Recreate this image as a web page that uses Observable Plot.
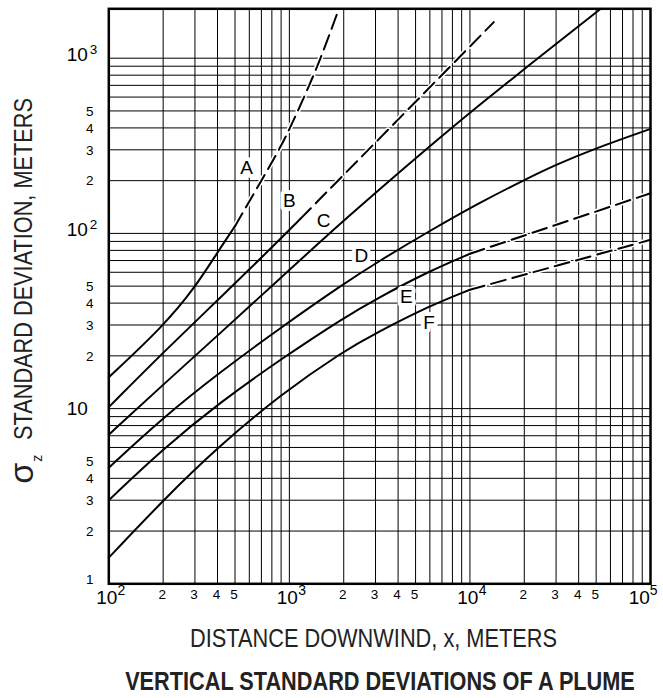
<!DOCTYPE html>
<html><head><meta charset="utf-8">
<script src="https://cdn.jsdelivr.net/npm/d3@7"></script>
<script src="https://cdn.jsdelivr.net/npm/@observablehq/plot@0.6"></script>
<style>
body{margin:0;background:#fff;}
#chart svg{display:block;}
</style></head><body><div id="chart"></div>
<script>
// ---- grid / tick data ----
const xGrid = [100,200,300,400,500,600,700,800,900,1000,2000,3000,4000,5000,6000,7000,8000,9000,10000,20000,30000,40000,50000,60000,70000,80000,90000,100000];
const yGrid = [1,2,3,4,5,6,7,8,9,10,20,30,40,50,60,70,80,90,100,200,300,400,500,600,700,800,900,1000];
const xMinorTicks = [200,300,400,500,2000,3000,4000,5000,20000,30000,40000,50000];
const xMinorLabels = ["2","3","4","5","2","3","4","5","2","3","4","5"];
const xDecadeTicks = [100,1000,10000];
const xDecadeExp = ["2","3","4"];
const xLastTick = [100000];
const xLastExp = ["5"];
const yMinorTicks = [2,3,4,5,20,30,40,50,200,300,400,500];
const yMinorLabels = ["2","3","4","5","2","3","4","5","2","3","4","5"];
const yOneTick = [1];
const yTenTick = [10];
const yDecadeTicks = [100,1000];
const yDecadeExp = ["2","3"];

// ---- curve data (distance x [m], sigma_z [m]) ----
const A_solid  = [[100,15.1],[200,29.5],[300,49],[400,78],[500,110]];
const A_dashed = [[500,110],[700,200],[900,315],[1000,392],[1280,683],[1550,1107],[1880,1914]];
const B_solid  = [[100,10.2],[200,20.9],[400,41.5],[800,83],[1150,121]];
const B_dashed = [[1150,121],[4580,514],[13560,1606]];
const C_solid  = [[100,7.1],[200,13.7],[415,27],[900,56],[2000,119],[6000,316],[11450,549],[25000,1040],[53000,1914]];
const D_solid  = [[100,4.6],[200,8.9],[415,16.2],[900,29.1],[2000,51.6],[3062,68.5],[6040,104],[11450,150.7],[20000,202],[30000,247],[50000,307],[100000,395]];
const E_solid  = [[100,3.0],[200,5.9],[415,10.9],[900,19.2],[2000,33.0],[3000,42.1],[6040,61.4],[10000,76.5]];
const E_dashed = [[10000,76.5],[100000,169.5]];
const F_solid  = [[100,1.41],[200,3.0],[400,6.0],[900,12.1],[2000,21.3],[3000,26.9],[6040,38.8],[10000,47.7]];
const F_dashed = [[10000,47.7],[100000,91.9]];

const curveLabels = ["A","B","C","D","E","F"];
const labelX = [579,1001,1550,2507,4450,5943];
const labelY = [236,152.5,117.2,74.8,43.2,30.8];

// ---- build tables ----
const toRows = (cls, pts) => pts.map(([x, y]) => ({cls, x, y}));
const solidRows = [
  ...toRows("A", A_solid), ...toRows("B", B_solid), ...toRows("C", C_solid),
  ...toRows("D", D_solid), ...toRows("E", E_solid), ...toRows("F", F_solid)
];
const dashedRows = [
  ...toRows("A", A_dashed), ...toRows("B", B_dashed),
  ...toRows("E", E_dashed), ...toRows("F", F_dashed)
];
const labelRows = curveLabels.map((t, i) => ({t, x: labelX[i], y: labelY[i]}));
const xMinorRows = xMinorTicks.map((v, i) => ({v, t: xMinorLabels[i]}));
const xDecRows = xDecadeTicks.map((v, i) => ({v, e: xDecadeExp[i]}));
const xLastRows = xLastTick.map((v, i) => ({v, e: xLastExp[i]}));
const yMinorRows = yMinorTicks.map((v, i) => ({v, t: yMinorLabels[i]}));
const yDecRows = yDecadeTicks.map((v, i) => ({v, e: yDecadeExp[i]}));

const FONT = '"Liberation Sans", Arial, Helvetica, sans-serif';
const DASH = "15,7";

const plot = Plot.plot({
  width: 663, height: 698,
  marginLeft: 108.3, marginRight: 13, marginTop: 8.3, marginBottom: 698 - 583.3,
  x: {type: "log", domain: [100, 100000], axis: null},
  y: {type: "log", domain: [1, 1914], axis: null},
  style: {fontFamily: FONT, background: "white", color: "black"},
  marks: [
    Plot.ruleX(xGrid, {stroke: "black", strokeWidth: 1}),
    Plot.ruleY(yGrid, {stroke: "black", strokeWidth: 1}),
    Plot.line(dashedRows, {x: "x", y: "y", z: "cls", stroke: "white", strokeWidth: 5, strokeDasharray: DASH, curve: "basis"}),
    Plot.line(solidRows, {x: "x", y: "y", z: "cls", stroke: "black", strokeWidth: 2, curve: "basis"}),
    Plot.line(dashedRows, {x: "x", y: "y", z: "cls", stroke: "black", strokeWidth: 2, strokeDasharray: DASH, curve: "basis"}),
    Plot.text(labelRows, {x: "x", y: "y", text: "t", fontSize: 19, fill: "black", stroke: "white", strokeWidth: 8, strokeLinejoin: "round", paintOrder: "stroke"}),
    Plot.frame({stroke: "black", strokeWidth: 2.5}),
    // x tick labels
    Plot.text(xMinorRows, {x: "v", text: "t", frameAnchor: "bottom", dy: 15.5, dx: -1, fontSize: 13.5}),
    Plot.text(xDecRows, {x: "v", text: () => "10", frameAnchor: "bottom", textAnchor: "end", dx: 8.5, dy: 20, fontSize: 19}),
    Plot.text(xDecRows, {x: "v", text: "e", frameAnchor: "bottom", textAnchor: "start", dx: 8.8, dy: 11, fontSize: 14}),
    Plot.text(xLastRows, {x: "v", text: () => "10", frameAnchor: "bottom", textAnchor: "end", dx: -0.7, dy: 20, fontSize: 19}),
    Plot.text(xLastRows, {x: "v", text: "e", frameAnchor: "bottom", textAnchor: "start", dx: -0.8, dy: 11, fontSize: 14}),
    // y tick labels
    Plot.text(yMinorRows, {y: "v", text: "t", frameAnchor: "left", textAnchor: "end", dx: -15.3, dy: 0.5, fontSize: 13.5}),
    Plot.text(yOneTick, {y: d => d, text: () => "1", frameAnchor: "left", textAnchor: "end", dx: -15.3, dy: -4, fontSize: 13.5}),
    Plot.text(yTenTick, {y: d => d, text: () => "10", frameAnchor: "left", textAnchor: "end", dx: -21, dy: 0.5, fontSize: 19}),
    Plot.text(yDecRows, {y: "v", text: () => "10", frameAnchor: "left", textAnchor: "end", dx: -21, dy: -3.5, fontSize: 19}),
    Plot.text(yDecRows, {y: "v", text: "e", frameAnchor: "left", textAnchor: "start", dx: -19, dy: -9, fontSize: 13.5})
  ]
});

document.getElementById("chart").appendChild(plot);
const svg = d3.select(plot);

// condensed titles: measure natural width and scale horizontally to the target width
function condensed(x, y, rot, size, weight, target, str) {
  const t = svg.append("text")
    .attr("font-size", size).attr("font-weight", weight)
    .attr("text-anchor", "middle").attr("fill", "#222")
    .attr("font-family", FONT)
    .text(str);
  const w = t.node().getComputedTextLength() || target;
  const s = target / w;
  t.attr("transform", `translate(${x},${y}) rotate(${rot}) scale(${s},1)`);
}
condensed(373.5, 646.5, 0, 26, "normal", 367, "DISTANCE DOWNWIND, x, METERS");
condensed(380, 690, 0, 25.5, "bold", 510, "VERTICAL STANDARD DEVIATIONS OF A PLUME");
condensed(32, 269, -90, 26.5, "normal", 342, "STANDARD DEVIATION, METERS");
svg.append("text")
  .attr("transform", "translate(33.3,473.3) rotate(-90)")
  .attr("text-anchor", "middle").attr("font-size", 34)
  .attr("fill", "#222")
  .text("σ");
svg.append("text")
  .attr("transform", "translate(41.7,458.3) rotate(-90)")
  .attr("text-anchor", "middle").attr("font-size", 14)
  .attr("fill", "#222")
  .text("z");
</script></body></html>
